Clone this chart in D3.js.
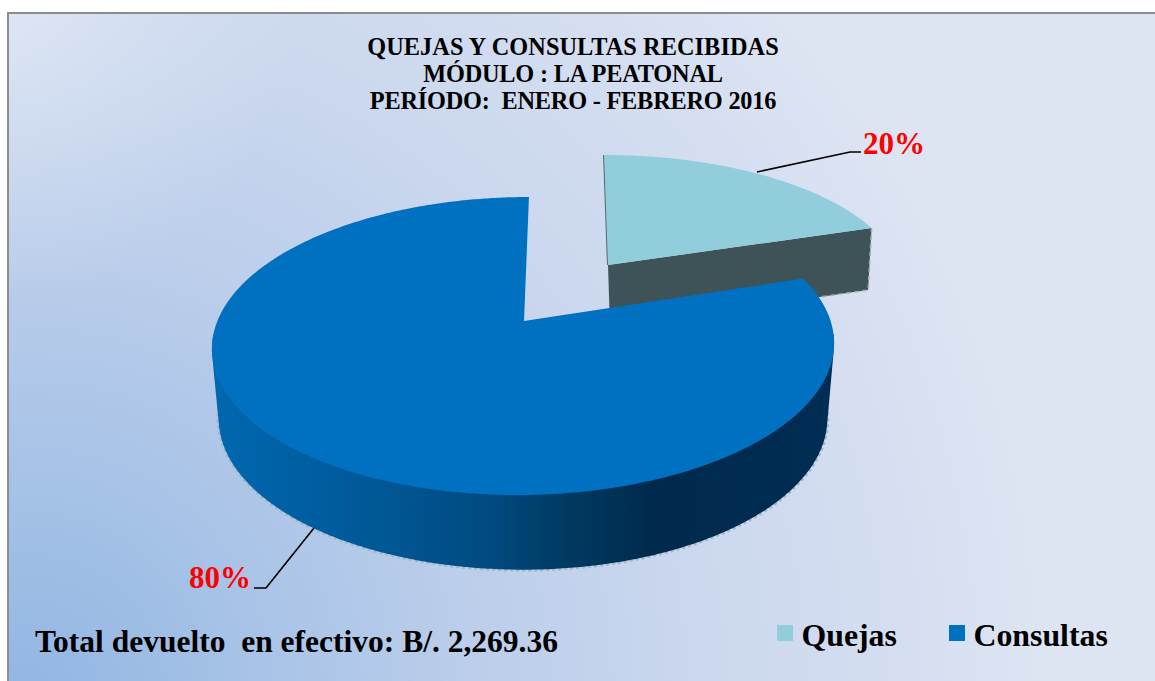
<!DOCTYPE html>
<html><head><meta charset="utf-8">
<script src="https://cdn.jsdelivr.net/npm/d3@7/dist/d3.min.js"></script>
<style>html,body{margin:0;padding:0;background:#fff;overflow:hidden}svg{display:block}text{font-family:"Liberation Serif",serif;font-weight:bold}</style>
</head><body><svg id="c" width="1155" height="681"></svg>
<script>
const categories = ["Quejas", "Consultas"];
const shares = [20, 80];
const shareLabels = ["20%", "80%"];
const sliceColors = ["#92cddc", "#0070c0"];
const titleLines = ["QUEJAS Y CONSULTAS RECIBIDAS", "MÓDULO : LA PEATONAL", "PERÍODO:  ENERO - FEBRERO 2016"];
const totalNote = "Total devuelto  en efectivo: B/. 2,269.36";

const svg = d3.select("#c");
const defs = svg.append("defs");
function radial(id, cx, cy, r, stops) {
  const g = defs.append("radialGradient").attr("id", id).attr("gradientUnits", "userSpaceOnUse")
    .attr("cx", cx).attr("cy", cy).attr("r", r);
  stops.forEach(s => g.append("stop").attr("offset", s[0]).attr("stop-color", s[1]).attr("stop-opacity", s[2] ?? 1));
}
radial("bg", 30, 690, 1010, [[0, "#93b6e2"], [.2, "#a5c2e7"], [.42, "#bacdea"], [.65, "#cad7ee"], [.88, "#d6dff1"], [1, "#dde5f3"]]);
radial("tl", 0, 0, 300, [[0, "#eaf0f9", .6], [.5, "#e6edf8", .3], [1, "#e6edf8", 0]]);
const side = defs.append("linearGradient").attr("id", "side").attr("gradientUnits", "userSpaceOnUse")
  .attr("x1", 212).attr("x2", 833).attr("y1", 0).attr("y2", 0);
[[0, "#0068b0"], [.14, "#005fa3"], [.3, "#005592"], [.45, "#004a80"], [.58, "#00395f"], [.72, "#00294c"], [1, "#002d54"]]
  .forEach(s => side.append("stop").attr("offset", s[0]).attr("stop-color", s[1]));

// Frame
svg.append("rect").attr("x", 8).attr("y", 13).attr("width", 1160).attr("height", 680)
  .attr("fill", "url(#bg)").attr("stroke", "#8c8c8c").attr("stroke-width", 2);
svg.append("rect").attr("x", 9).attr("y", 14).attr("width", 300).attr("height", 300).attr("fill", "url(#tl)");

// Pie angles (clockwise from 12 o'clock)
const arcs = d3.pie().sort(null).value(d => d)(shares);

// Perspective projection of the pie disc
function projector(o) {
  return th => {
    const u = Math.sin(th), v = Math.cos(th), w = 1 + o.b * v;
    const Y = o.a * v / w;
    return [o.x + o.A * u / w + o.s * Y, o.y - Y];
  };
}
const line = d3.line();
const arcPoints = (p, a0, a1) => {
  const n = Math.ceil((a1 - a0) / 0.01), pts = [];
  for (let i = 0; i <= n; i++) pts.push(p(a0 + (a1 - a0) * i / n));
  return pts;
};

// Quejas slice (exploded)
const qTop = projector({x: 608, y: 265, A: 290, a: 124.6, b: .133, s: -.036});
const qBot = projector({x: 610, y: 327, A: 284, a: 124.6, b: .133, s: -.036});
const q = arcs[0], m = arcs[1];
const qApexT = [608, 265], qApexB = [610, 327];
svg.append("path").attr("d", line([qApexT, qTop(q.endAngle), qBot(q.endAngle), qApexB]) + "Z")
  .attr("fill", "#3e5358");
svg.append("path").attr("d", line([qTop(q.endAngle), qBot(q.endAngle), [820, 297]]))
  .attr("fill", "none").attr("stroke", "#a4b0b4").attr("stroke-width", 1.6).attr("stroke-dasharray", "4 4");
svg.append("path").attr("d", line([qTop(q.startAngle), qApexT]))
  .attr("fill", "none").attr("stroke", "#4d6d75").attr("stroke-width", 2);
svg.append("path").attr("d", line([qApexT, ...arcPoints(qTop, q.startAngle, q.endAngle)]) + "Z")
  .attr("fill", sliceColors[0]);

// Consultas slice
const mTop = projector({x: 524, y: 321, A: 306.6, a: 144.8, b: .168, s: .04});
const mBot = projector({x: 523, y: 393, A: 300, a: 147, b: .168, s: .0});
const rim = arcPoints(mBot, 1.66, 4.62);
svg.append("path").attr("d", line(rim)).attr("fill", "none").attr("stroke", "#9fb8c8")
  .attr("stroke-width", 4).attr("stroke-dasharray", "3 3");
const hull = d3.polygonHull([...arcPoints(mTop, 1.66, 4.62), ...rim]);
svg.append("path").attr("d", line(hull) + "Z").attr("fill", "url(#side)");
svg.append("path").attr("d", line([[524, 321], ...arcPoints(mTop, m.startAngle, m.endAngle)]) + "Z")
  .attr("fill", sliceColors[1]);

// Leader lines
const leaders = [[[757, 172], [850, 152], [861, 152]], [[314, 528], [266, 588], [254, 588]]];
svg.selectAll("path.leader").data(leaders).join("path").attr("class", "leader")
  .attr("d", d => line(d)).attr("fill", "none").attr("stroke", "#000").attr("stroke-width", 1.7);

// Title
svg.selectAll("text.t").data(titleLines).join("text").attr("class", "t")
  .attr("x", 573).attr("y", (d, i) => 55 + i * 27).attr("text-anchor", "middle")
  .attr("font-size", 24.3).attr("letter-spacing", (d, i) => i === 0 ? 0.08 : -0.2)
  .attr("fill", "#000").style("white-space", "pre").text(d => d);

// Percent labels
const labelPos = [[863, 154], [189, 588]];
svg.selectAll("text.p").data(shareLabels).join("text").attr("class", "p")
  .attr("x", (d, i) => labelPos[i][0]).attr("y", (d, i) => labelPos[i][1])
  .attr("font-size", 31).attr("fill", "#ff0000").text(d => d);

// Total
svg.append("text").attr("x", 35).attr("y", 652).attr("font-size", 31.5).attr("fill", "#000")
  .style("white-space", "pre").text(totalNote);

// Legend
const legendX = [777, 949];
const lg = svg.selectAll("g.l").data(categories).join("g").attr("class", "l")
  .attr("transform", (d, i) => `translate(${legendX[i]},625)`);
lg.append("rect").attr("width", 16).attr("height", 16).attr("fill", (d, i) => sliceColors[i]);
lg.append("text").attr("x", 24.5).attr("y", 21).attr("font-size", 31.8).attr("fill", "#000").text(d => d);
</script></body></html>
